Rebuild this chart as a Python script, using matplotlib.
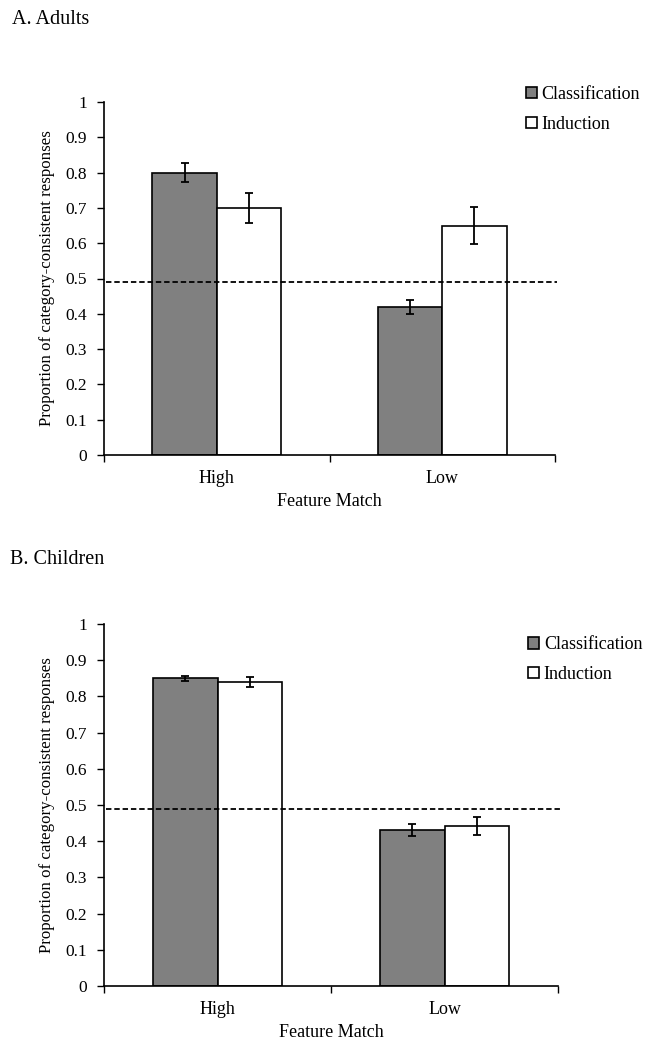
import numpy as np
import matplotlib
matplotlib.use("Agg")
import matplotlib.pyplot as plt

plt.rcParams["font.family"] = ["Liberation Serif", "DejaVu Serif"]

# Donnees
categories = ["High", "Low"]
series = ["Classification", "Induction"]
adults_class = [0.80, 0.42]
adults_class_err = [0.028, 0.020]
adults_ind = [0.70, 0.65]
adults_ind_err = [0.043, 0.053]
children_class = [0.85, 0.43]
children_class_err = [0.007, 0.017]
children_ind = [0.84, 0.442]
children_ind_err = [0.014, 0.024]
chance = 0.49
panel_titles = ["A. Adults", "B. Children"]

fig = plt.figure(figsize=(6.48, 10.48), dpi=100)
W, H = 648, 1048


def panel(rect, cls, cls_err, ind, ind_err, title, title_xy, leg_y):
    l, t, r, b = rect
    ax = fig.add_axes([l / W, 1 - b / H, (r - l) / W, (b - t) / H])
    x = np.arange(len(categories))
    w = 0.285
    ax.bar(x - w / 2, cls, w, color="#808080", edgecolor="black", linewidth=1.2,
           label=series[0], zorder=2)
    ax.bar(x + w / 2, ind, w, color="white", edgecolor="black", linewidth=1.2,
           label=series[1], zorder=2)
    ax.errorbar(x - w / 2, cls, yerr=cls_err, fmt="none", ecolor="black",
                elinewidth=1.3, capsize=3, capthick=1.3, zorder=3)
    ax.errorbar(x + w / 2, ind, yerr=ind_err, fmt="none", ecolor="black",
                elinewidth=1.3, capsize=3, capthick=1.3, zorder=3)
    ax.plot([-0.49, 1.51], [chance, chance], ls=(0, (3, 1.6)), color="black",
            lw=1.3, zorder=4, clip_on=False)

    ax.set_xlim(-0.5, 1.5)
    ax.set_ylim(0, 1)
    ax.set_yticks(np.arange(0, 1.01, 0.1))
    ax.set_yticklabels(["0", "0.1", "0.2", "0.3", "0.4", "0.5", "0.6", "0.7",
                        "0.8", "0.9", "1"])
    ax.set_xticks([-0.5, 0.5, 1.5])
    ax.set_xticklabels([])
    ax.set_xticks(x, minor=True)
    ax.set_xticklabels(categories, minor=True)
    ax.tick_params(axis="x", which="major", direction="out", length=5, width=1)
    ax.tick_params(axis="x", which="minor", length=0, pad=11, labelsize=13)
    ax.tick_params(axis="y", direction="out", length=5, width=1, labelsize=12.5, pad=7)
    for s in ["top", "right"]:
        ax.spines[s].set_visible(False)
    for s in ["left", "bottom"]:
        ax.spines[s].set_linewidth(1.2)
    ax.set_xlabel("Feature Match", fontsize=13, labelpad=4)
    ax.set_ylabel("Proportion of category-consistent responses", fontsize=12.2,
                  labelpad=8)
    ax.legend(loc="center left", bbox_to_anchor=(0.935, leg_y), frameon=False,
              fontsize=13, handlelength=0.6, handleheight=0.6, handletextpad=0.25,
              labelspacing=0.7, borderaxespad=0, borderpad=0)
    fig.text(title_xy[0] / W, 1 - title_xy[1] / H, title, fontsize=14.5,
             va="center", ha="left")
    return ax


panel((104, 102, 555, 455), adults_class, adults_class_err, adults_ind,
      adults_ind_err, panel_titles[0], (12, 20), 0.979)
panel((104, 624, 558, 986), children_class, children_class_err, children_ind,
      children_ind_err, panel_titles[1], (10, 560), 0.902)

fig.savefig("out.png", dpi=100)
plt.close()
